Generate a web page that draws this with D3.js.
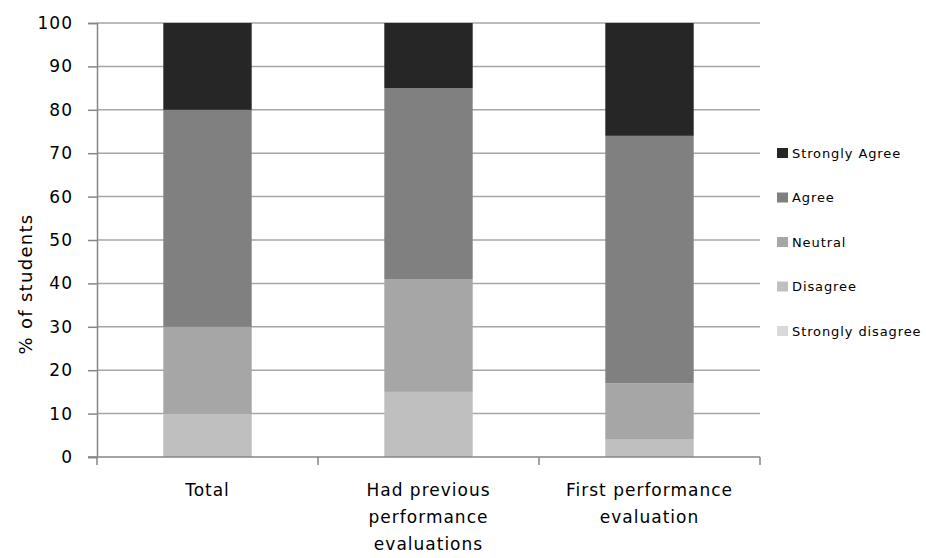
<!DOCTYPE html>
<html>
<head>
<meta charset="utf-8">
<script src="https://cdn.jsdelivr.net/npm/d3@7"></script>
<style>
  body { margin: 0; background: #fff; }
  text { font-family: "DejaVu Sans", Verdana, sans-serif; fill: #000; }
</style>
</head>
<body>
<div id="chart-container"></div>
<script>
// set dimensions and margins for the chart
const margin = { top: 23, right: 166, bottom: 101, left: 97 };
const width = 926 - margin.left - margin.right;
const height = 558 - margin.top - margin.bottom;

// categories and series (percent of students)
const categories = ["Total", "Had previous performance evaluations", "First performance evaluation"];
const categoryLines = [["Total"], ["Had previous", "performance", "evaluations"], ["First performance", "evaluation"]];
const seriesNames = ["Strongly disagree", "Disagree", "Neutral", "Agree", "Strongly Agree"];
const stronglyDisagree = [0, 0, 0];
const disagree = [10, 15, 4];
const neutral = [20, 26, 13];
const agree = [50, 44, 57];
const stronglyAgree = [20, 15, 26];
const yTicks = [0, 10, 20, 30, 40, 50, 60, 70, 80, 90, 100];

const colors = ["#d9d9d9", "#bfbfbf", "#a6a6a6", "#808080", "#262626"];
const ylabel = "% of students";

const values = [stronglyDisagree, disagree, neutral, agree, stronglyAgree];
const data = categories.map((c, i) => {
  const row = { category: c };
  seriesNames.forEach((s, j) => { row[s] = values[j][i]; });
  return row;
});
const stacked = d3.stack().keys(seriesNames)(data);

const x = d3.scaleBand().domain(categories).range([0, width]).paddingInner(0.6).paddingOuter(0.3);
const xOuter = d3.scaleBand().domain(categories).range([0, width]);
const y = d3.scaleLinear().domain([0, 100]).range([height, 0]);
const color = d3.scaleOrdinal().domain(seriesNames).range(colors);

const svg = d3.select("#chart-container")
  .append("svg")
  .attr("width", 926)
  .attr("height", 558)
  .append("g")
  .attr("transform", `translate(${margin.left},${margin.top})`);

// gridlines
svg.append("g")
  .selectAll("line")
  .data(yTicks.filter(d => d > 0))
  .join("line")
  .attr("x1", 0)
  .attr("x2", width)
  .attr("y1", d => y(d))
  .attr("y2", d => y(d))
  .attr("stroke", "#a6a6a6")
  .attr("stroke-width", 1.5);

// bars
svg.append("g")
  .selectAll("g")
  .data(stacked)
  .join("g")
  .attr("fill", d => color(d.key))
  .selectAll("rect")
  .data(d => d)
  .join("rect")
  .attr("x", d => x(d.data.category))
  .attr("width", x.bandwidth())
  .attr("y", d => y(d[1]))
  .attr("height", d => y(d[0]) - y(d[1]));

// y axis
const yAxis = svg.append("g")
  .call(d3.axisLeft(y).tickValues(yTicks).tickSize(9).tickPadding(15));
yAxis.select(".domain").attr("stroke", "#868686").attr("stroke-width", 1.5);
yAxis.selectAll(".tick line").attr("stroke", "#868686").attr("stroke-width", 1.5);
yAxis.selectAll(".tick text")
  .style("font-size", "17px")
  .style("letter-spacing", "1px")
  .attr("fill", "#1a1a1a");

// x axis with category separators
const xAxisG = svg.append("g").attr("transform", `translate(0,${height})`);
xAxisG.append("line")
  .attr("x1", -9).attr("x2", width)
  .attr("stroke", "#868686").attr("stroke-width", 1.5);
xAxisG.selectAll(".sep")
  .data(categories.concat(["end"]))
  .join("line")
  .attr("class", "sep")
  .attr("x1", (d, i) => i < categories.length ? xOuter(d) : width)
  .attr("x2", (d, i) => i < categories.length ? xOuter(d) : width)
  .attr("y1", 0)
  .attr("y2", 8)
  .attr("stroke", "#868686")
  .attr("stroke-width", 1.5);

// x labels
categories.forEach((c, i) => {
  const t = xAxisG.append("text")
    .attr("x", x(c) + x.bandwidth() / 2)
    .attr("y", 39)
    .style("text-anchor", "middle")
    .style("font-size", "17px")
    .style("letter-spacing", "1px");
  categoryLines[i].forEach((line, k) => {
    t.append("tspan")
      .attr("x", x(c) + x.bandwidth() / 2)
      .attr("dy", k === 0 ? 0 : 27)
      .text(line);
  });
});

// y axis label
svg.append("text")
  .attr("transform", "rotate(-90)")
  .attr("x", -(284 - margin.top))
  .attr("y", -65)
  .style("text-anchor", "middle")
  .style("font-size", "18px")
  .style("letter-spacing", "1.3px")
  .text(ylabel);

// legend (top entry = Strongly Agree)
const legend = svg.append("g")
  .attr("transform", `translate(${width + 17},${153 - margin.top})`);
const legendItems = legend.selectAll("g")
  .data(seriesNames.slice().reverse())
  .join("g")
  .attr("transform", (d, i) => `translate(0,${i * 44.5})`);
legendItems.append("rect")
  .attr("x", 0).attr("y", -5)
  .attr("width", 11).attr("height", 10)
  .attr("fill", d => color(d));
legendItems.append("text")
  .attr("x", 15)
  .attr("y", 0)
  .attr("dy", "0.35em")
  .style("font-size", "13px")
  .style("letter-spacing", "0.9px")
  .text(d => d);
</script>
</body>
</html>
